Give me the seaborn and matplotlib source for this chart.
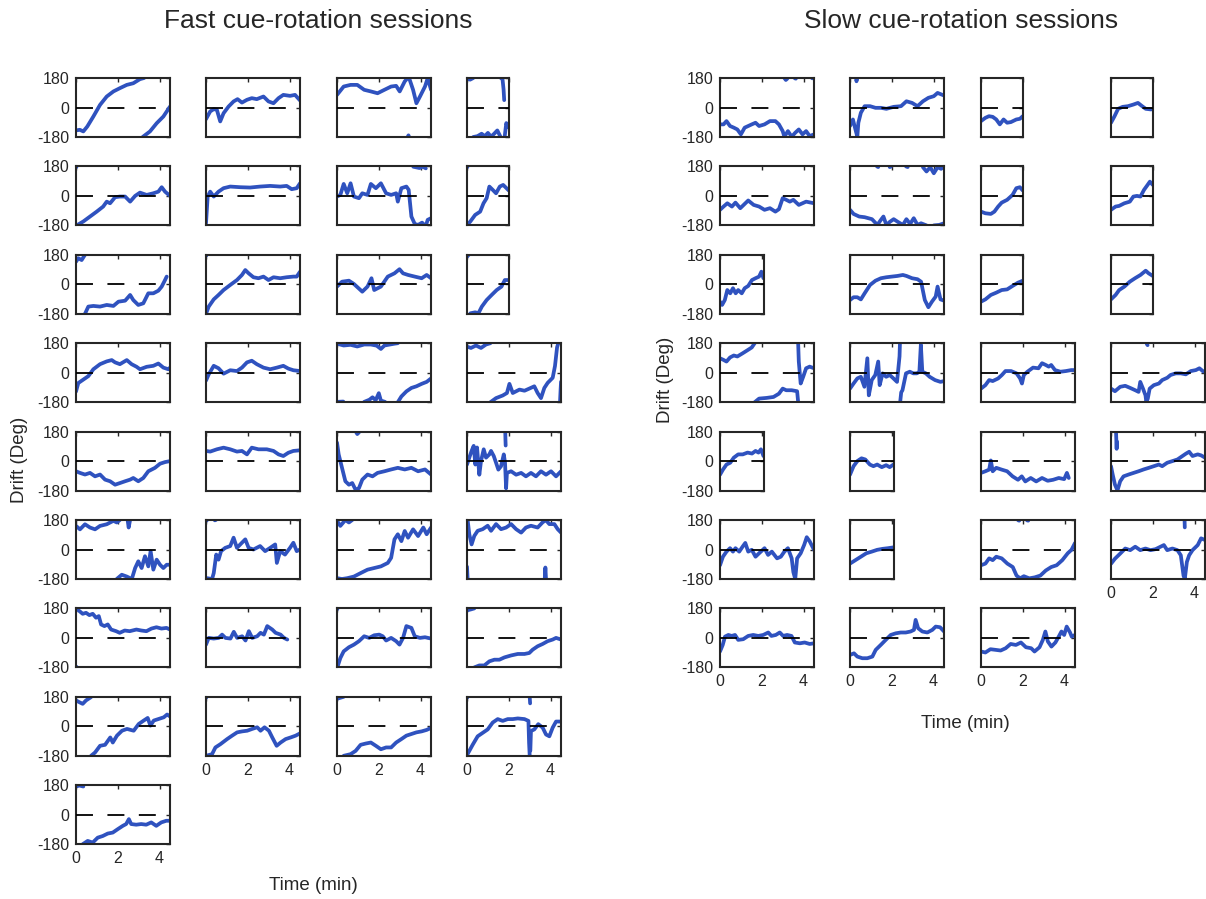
import numpy as np
import pandas as pd
import matplotlib
matplotlib.use("Agg")
import matplotlib.pyplot as plt
import seaborn as sns

BR = None  # break marker (angle wraps around +/-180)

# ---------------- Fast cue-rotation sessions: (time [min], drift [deg]) ----------------
fast_r1c1 = [(0,-140),(0.18,-136),(0.35,-146),(0.54,-116),(0.83,-55),(1.15,16),(1.47,67),(1.79,98),(2.1,118),(2.43,138),(2.74,148),(3.06,173),(3.26,180),BR,(3.19,-180),(3.54,-146),(3.86,-96),(4.18,-55),(4.5,6)]
fast_r1c2 = [(0,-71),(0.2,-24),(0.37,-10),(0.52,-14),(0.68,-85),(0.84,-35),(1.08,6),(1.32,37),(1.51,51),(1.72,30),(1.96,47),(2.19,57),(2.43,51),(2.75,67),(2.99,37),(3.23,26),(3.47,57),(3.7,77),(4.02,71),(4.26,77),(4.5,43)]
fast_r1c3 = [(0,77),(0.32,128),(0.65,138),(0.97,138),(1.3,108),(1.62,98),(1.94,87),(2.27,108),(2.59,128),(2.83,132),(3.0,98),(3.24,159),(3.38,180),BR,(3.38,-180),(3.42,-170),(3.45,-180),BR,(3.45,180),(3.64,108),(3.8,26),(3.97,67),(4.21,128),(4.34,179),(4.5,108)]
fast_r1c4 = [(0,175),(0.15,170),(0.3,180),BR,(0.3,-180),(0.5,-175),(0.7,-160),(0.85,-175),(1.0,-155),(1.15,-178),(1.3,-160),(1.45,-140),(1.6,-178),BR,(1.62,180),(1.7,172),(1.75,110),(1.78,45),BR,(1.8,-180),(1.88,-95),(1.95,-120),(2.0,-100)]
fast_r2c1 = [(0,180),(0.02,176),BR,(0.03,-180),(0.35,-156),(0.67,-126),(0.99,-96),(1.3,-65),(1.47,-35),(1.63,-45),(1.87,-8),(2.1,-4),(2.35,-4),(2.59,-35),(2.83,0),(3.06,20),(3.38,6),(3.7,16),(3.94,26),(4.1,53),(4.26,26),(4.5,0)]
fast_r2c2 = [(0,-167),(0.08,-4),(0.2,26),(0.37,-4),(0.6,26),(0.84,47),(1.16,57),(1.64,53),(2.11,51),(2.59,57),(3.07,61),(3.55,57),(3.86,61),(4.1,41),(4.34,47),(4.5,77)]
fast_r2c3 = [(0,-4),(0.16,6),(0.32,73),(0.49,16),(0.65,77),(0.81,-4),(1.05,-14),(1.21,16),(1.46,6),(1.62,73),(1.86,47),(2.1,77),(2.35,16),(2.59,6),(2.83,16),(2.91,-35),(3.08,47),(3.32,57),(3.43,37),(3.56,-126),(3.72,-171),(3.88,-177),(4.07,-163),(4.2,-180),BR,(4.28,-170),(4.34,-146),(4.5,-136),BR,(3.65,178),(3.8,174),(3.95,170),(4.1,178),(4.25,168)]
fast_r2c4 = [(0,180),(0.02,176),BR,(0,-177),(0.16,-156),(0.39,-116),(0.63,-96),(0.79,-45),(0.94,-14),(1.07,57),(1.23,37),(1.39,16),(1.57,57),(1.73,67),(2.0,33)]
fast_r3c1 = [(0,138),(0.11,159),(0.27,148),(0.43,180),BR,(0.43,-180),(0.59,-136),(0.83,-132),(1.15,-136),(1.47,-126),(1.79,-132),(2.03,-106),(2.35,-100),(2.59,-65),(2.74,-96),(2.98,-126),(3.22,-116),(3.46,-55),(3.7,-55),(3.94,-39),(4.1,-14),(4.26,26),(4.34,47)]
fast_r3c2 = [(0,180),(0.02,176),BR,(0,-180),(0.13,-136),(0.37,-92),(0.6,-65),(0.84,-35),(1.16,-4),(1.48,26),(1.72,57),(1.88,87),(2.04,67),(2.27,43),(2.51,37),(2.75,47),(2.99,26),(3.23,43),(3.55,37),(3.86,43),(4.18,47),(4.34,47),(4.5,77)]
fast_r3c3 = [(0,-14),(0.24,16),(0.57,22),(0.81,2),(1.21,-45),(1.46,-14),(1.65,37),(1.78,-35),(2.1,-14),(2.43,47),(2.75,67),(2.99,92),(3.16,67),(3.4,57),(3.72,47),(4.05,37),(4.29,57),(4.5,37)]
fast_r3c4 = [(0,168),(0.08,180),BR,(0.16,-177),(0.39,-171),(0.55,-176),(0.71,-136),(0.94,-96),(1.18,-65),(1.42,-35),(1.65,-14),(1.81,26),(2.0,26)]
fast_r4c1 = [(0,-115),(0.11,-63),(0.35,-42),(0.59,-21),(0.83,21),(1.15,52),(1.47,69),(1.71,77),(1.87,63),(2.1,52),(2.43,77),(2.66,52),(2.9,36),(3.06,21),(3.38,36),(3.7,42),(3.94,56),(4.18,31),(4.42,21),(4.5,31)]
fast_r4c2 = [(0,-48),(0.13,-10),(0.37,42),(0.6,27),(0.84,-6),(1.16,15),(1.48,10),(1.72,31),(1.96,63),(2.19,73),(2.43,52),(2.75,31),(3.07,21),(3.39,31),(3.7,42),(3.94,25),(4.18,15),(4.5,10)]
fast_r4c3 = [(0,177),(0.32,166),(0.65,170),(0.97,160),(1.3,172),(1.62,172),(1.9,165),(2.1,145),(2.27,166),(2.75,177),(2.91,180),BR,(0,-178),(0.3,-176),BR,(1.3,-178),(1.55,-165),(1.7,-150),(1.85,-168),(2.0,-125),(2.1,-170),(2.3,-178),BR,(2.91,-180),(3.08,-145),(3.32,-114),(3.56,-93),(3.8,-83),(4.05,-68),(4.29,-56),(4.5,-35)]
fast_r4c4 = [(0,159),(0.19,151),(0.43,166),(0.67,151),(0.91,172),(1.12,180),BR,(1.12,-180),(1.39,-155),(1.71,-139),(1.91,-124),(2.03,-68),(2.19,-124),(2.51,-103),(2.75,-110),(2.98,-97),(3.22,-83),(3.38,-124),(3.54,-155),(3.7,-93),(3.86,-62),(4.1,-31),(4.21,41),(4.31,155),(4.37,180),BR,(4.45,-180),(4.48,-100),(4.5,-55)]
fast_r5c1 = [(0,-62),(0.19,-72),(0.43,-82),(0.67,-72),(0.91,-93),(1.15,-82),(1.39,-113),(1.63,-123),(1.87,-144),(2.1,-134),(2.35,-123),(2.59,-113),(2.74,-103),(2.98,-123),(3.22,-103),(3.46,-62),(3.78,-41),(4.02,-16),(4.26,-6),(4.5,0)]
fast_r5c2 = [(0,62),(0.2,58),(0.52,72),(0.84,82),(1.16,72),(1.48,58),(1.72,62),(1.96,41),(2.19,82),(2.51,72),(2.91,72),(3.23,62),(3.47,41),(3.7,31),(3.94,51),(4.18,62),(4.5,66)]
fast_r5c3 = [(0,113),(0.08,41),(0.24,-41),(0.4,-123),(0.57,-144),(0.73,-134),(0.89,-175),(1.05,-165),(1.21,-113),(1.46,-82),(1.7,-93),(1.94,-72),(2.27,-62),(2.59,-51),(2.91,-41),(3.24,-51),(3.56,-41),(3.88,-62),(4.21,-51),(4.5,-82),BR,(0.9,180),(0.97,165),(1.05,175)]
fast_r5c4 = [(0,-21),(0.11,21),(0.22,62),(0.32,93),(0.4,-21),(0.48,83),(0.59,-83),(0.67,0),(0.8,72),(0.91,21),(1.07,41),(1.15,62),(1.28,31),(1.39,-10),(1.5,-52),(1.63,-31),(1.76,41),(1.82,-10),(1.87,-166),(1.91,-72),(2.11,-62),(2.35,-83),(2.59,-72),(2.82,-93),(3.06,-72),(3.3,-93),(3.54,-62),(3.78,-83),(4.02,-62),(4.26,-93),(4.5,-62),BR,(1.83,180),(1.84,130),(1.85,95)]
fast_r6c1 = [(0,144),(0.19,123),(0.43,154),(0.67,134),(0.91,123),(1.15,144),(1.47,154),(1.79,175),(1.95,165),(2.1,180),BR,(2.47,180),(2.52,134),(2.58,175),BR,(1.95,-180),(2.19,-154),(2.43,-165),(2.67,-180),(2.83,-113),(2.98,-72),(3.14,-113),(3.3,-41),(3.46,-103),(3.57,-10),(3.7,-123),(3.86,-62),(4.02,-93),(4.18,-113),(4.34,-93),(4.5,-93)]
fast_r6c2 = [(0,180),(0.03,176),BR,(0.42,178),(0.47,180),BR,(0.05,-175),(0.29,-180),(0.37,-144),(0.49,-31),(0.6,-62),(0.72,-10),(0.92,10),(1.16,21),(1.32,72),(1.48,10),(1.64,31),(1.88,62),(2.04,10),(2.27,0),(2.59,21),(2.83,-10),(3.07,10),(3.31,31),(3.39,-82),(3.55,-10),(3.78,-31),(4.02,10),(4.18,41),(4.34,-10),(4.5,0)]
fast_r6c3 = [(0,175),(0.16,144),(0.4,180),(0.57,165),(0.73,180),BR,(0,-175),(0.24,-180),(0.49,-175),(0.81,-165),(1.13,-144),(1.46,-123),(1.78,-113),(2.1,-103),(2.43,-82),(2.59,-51),(2.75,62),(2.91,93),(3.08,51),(3.24,113),(3.4,72),(3.64,123),(3.88,82),(4.13,134),(4.29,93),(4.5,134)]
fast_r6c4 = [(0,-105),(0.03,-180),BR,(0.03,180),(0.11,93),(0.22,31),(0.35,83),(0.51,114),(0.75,124),(0.99,145),(1.15,114),(1.39,155),(1.63,124),(1.87,134),(2.11,155),(2.35,124),(2.59,103),(2.82,134),(3.06,145),(3.38,134),(3.62,166),(3.78,180),BR,(3.72,-180),(3.75,-110),(3.78,-180),BR,(3.8,175),(3.94,155),(4.18,155),(4.34,124),(4.5,103)]
fast_r7c1 = [(0,-180),(0.02,-176),BR,(0,180),(0.16,164),(0.32,147),(0.48,153),(0.64,139),(0.8,147),(0.96,123),(1.09,133),(1.2,82),(1.36,72),(1.52,82),(1.68,51),(1.92,41),(2.09,31),(2.33,45),(2.57,41),(2.89,51),(3.13,45),(3.37,41),(3.61,57),(3.85,65),(4.09,57),(4.33,61),(4.5,51)]
fast_r7c2 = [(0,-41),(0.13,0),(0.37,-4),(0.61,0),(0.77,20),(0.93,0),(1.17,-4),(1.33,37),(1.49,0),(1.73,10),(1.89,-16),(2.05,41),(2.21,0),(2.45,10),(2.61,31),(2.77,20),(2.93,72),(3.17,51),(3.33,31),(3.57,20),(3.73,0),(3.89,-10)]
fast_r7c3 = [(0,180),(0.02,176),BR,(0.03,-174),(0.16,-123),(0.32,-82),(0.57,-57),(0.81,-41),(1.05,-20),(1.3,10),(1.54,0),(1.78,16),(2.02,20),(2.19,10),(2.35,-16),(2.59,0),(2.83,-20),(2.99,-41),(3.16,0),(3.32,72),(3.56,61),(3.72,10),(3.97,0),(4.21,4),(4.5,-4)]
fast_r7c4 = [(0,168),(0.19,174),(0.35,180),BR,(0.35,-180),(0.59,-168),(0.83,-168),(1.07,-143),(1.31,-133),(1.55,-133),(1.79,-119),(2.11,-107),(2.43,-98),(2.75,-98),(2.98,-92),(3.14,-72),(3.38,-51),(3.62,-37),(3.86,-20),(4.1,-10),(4.26,0),(4.5,-10)]
fast_r8c1 = [(0,158),(0.16,147),(0.32,137),(0.48,158),(0.72,178),BR,(0.72,-180),(0.91,-160),(1.15,-119),(1.39,-113),(1.64,-68),(1.76,-99),(1.96,-57),(2.2,-27),(2.44,-16),(2.76,-27),(3.0,14),(3.24,35),(3.43,51),(3.56,4),(3.72,35),(3.96,45),(4.2,55),(4.36,72),(4.5,60)]
fast_r8c2 = [(0,180),(0.02,176),BR,(0,-180),(0.29,-170),(0.45,-129),(0.69,-109),(1.01,-78),(1.25,-57),(1.49,-37),(1.73,-31),(1.97,-27),(2.21,-16),(2.45,-6),(2.61,-27),(2.8,-6),(3.01,-27),(3.17,-68),(3.38,-119),(3.57,-99),(3.81,-78),(4.05,-68),(4.29,-57),(4.5,-43)]
fast_r8c3 = [(0,168),(0.16,174),(0.32,180),BR,(0.32,-180),(0.65,-170),(0.89,-150),(1.13,-113),(1.38,-105),(1.62,-99),(1.86,-119),(2.1,-140),(2.35,-129),(2.59,-129),(2.83,-99),(3.08,-78),(3.32,-57),(3.56,-47),(3.8,-37),(4.05,-31),(4.29,-22),(4.5,-10)]
fast_r8c4 = [(0,180),(0.02,176),BR,(0,-176),(0.27,-113),(0.51,-61),(0.75,-40),(0.99,-19),(1.23,23),(1.47,44),(1.71,33),(1.95,44),(2.19,44),(2.43,48),(2.75,44),(2.94,33),(2.97,-100),(3.0,-180),BR,(3.0,180),(3.02,140),BR,(3.03,-150),(3.06,-29),(3.22,-19),(3.41,13),(3.62,-8),(3.78,-50),(3.94,-61),(4.1,-8),(4.26,29),(4.5,29)]
fast_r9c1 = [(0,172),(0.16,178),(0.35,172),BR,(0.32,-180),(0.56,-160),(0.8,-170),(1.04,-140),(1.28,-130),(1.52,-115),(1.76,-109),(2.0,-88),(2.24,-68),(2.4,-57),(2.53,-27),(2.64,-57),(2.88,-61),(3.12,-57),(3.36,-61),(3.6,-47),(3.84,-68),(4.08,-47),(4.32,-37),(4.5,-37)]

# ---------------- Slow cue-rotation sessions ----------------
slow_r1c1 = [(0,-103),(0.17,-103),(0.31,-83),(0.48,-113),(0.66,-123),(0.83,-134),(1.0,-164),(1.18,-123),(1.35,-113),(1.52,-103),(1.7,-93),(1.87,-113),(2.13,-103),(2.39,-83),(2.65,-83),(2.82,-103),(3.0,-144),(3.08,-178),(3.25,-144),(3.43,-178),(3.6,-154),(3.77,-134),(3.95,-164),(4.12,-144),(4.29,-174),(4.5,-164),BR,(3.08,180),(3.15,168),(3.22,176),BR,(3.58,178),(3.63,176),BR,(4.42,178),(4.47,180)]
slow_r1c2 = [(0,-113),(0.14,-73),(0.26,-134),(0.35,-178),(0.4,-93),(0.52,-32),(0.7,8),(0.96,8),(1.22,-2),(1.48,-2),(1.74,-8),(2.09,4),(2.44,8),(2.7,38),(2.97,28),(3.23,8),(3.49,38),(3.75,59),(4.01,69),(4.19,89),(4.5,73),BR,(0.3,180),(0.31,160),(0.33,175)]
slow_r1c3 = [(0,-83),(0.21,-63),(0.38,-53),(0.56,-57),(0.73,-73),(0.9,-103),(1.08,-73),(1.25,-93),(1.43,-89),(1.69,-73),(1.86,-69),(2.0,-53)]
slow_r1c4 = [(0,-93),(0.17,-53),(0.34,-8),(0.56,4),(0.81,8),(1.07,18),(1.29,28),(1.49,8),(1.66,-8),(1.92,-12)]
slow_r2c1 = [(0,-85),(0.17,-65),(0.35,-45),(0.57,-65),(0.74,-41),(0.97,-75),(1.18,-49),(1.35,-28),(1.61,-55),(1.87,-65),(2.13,-85),(2.39,-75),(2.65,-96),(2.82,-81),(3.0,-14),(3.17,-24),(3.34,-35),(3.51,-24),(3.77,-55),(4.12,-35),(4.5,-45)]
slow_r2c2 = [(0,-85),(0.17,-110),(0.44,-126),(0.7,-130),(1.05,-142),(1.31,-177),(1.48,-146),(1.6,-126),(1.74,-177),(1.92,-157),(2.09,-142),(2.27,-157),(2.53,-177),(2.7,-142),(2.88,-171),(3.05,-136),(3.23,-177),(3.4,-167),(3.66,-180),BR,(4.01,-180),(4.27,-177),(4.5,-167),BR,(1.29,180),(1.35,176),BR,(1.9,176),(1.95,178),BR,(2.68,180),(2.76,176),BR,(3.49,175),(3.66,149),(3.84,175),(4.01,138),(4.19,175),(4.36,165),(4.5,180)]
slow_r2c3 = [(0,-96),(0.21,-106),(0.47,-110),(0.64,-96),(0.82,-65),(0.99,-41),(1.25,-24),(1.51,6),(1.69,47),(1.86,53),(2.0,33)]
slow_r2c4 = [(0,-85),(0.22,-65),(0.39,-61),(0.64,-45),(0.9,-35),(1.07,-4),(1.24,0),(1.41,-4),(1.58,37),(1.75,67),(1.86,87),(2.0,67)]
slow_r3c1 = [(0,-106),(0.1,-126),(0.23,-96),(0.35,-35),(0.49,-55),(0.62,-24),(0.75,-55),(0.87,-35),(1.04,-55),(1.18,-24),(1.35,-10),(1.53,26),(1.7,37),(1.87,47),(1.98,77),(2.08,37)]
slow_r3c2 = [(0,-96),(0.17,-79),(0.35,-79),(0.52,-92),(0.7,-55),(0.96,-4),(1.22,22),(1.48,37),(1.74,43),(2.0,47),(2.27,51),(2.53,57),(2.7,51),(2.97,37),(3.23,31),(3.4,16),(3.58,-96),(3.75,-140),(3.92,-106),(4.1,-75),(4.19,-14),(4.33,-92),(4.5,-100)]
slow_r3c3 = [(0,-106),(0.21,-92),(0.47,-65),(0.73,-51),(0.99,-35),(1.25,-31),(1.51,-10),(1.77,10),(2.0,22)]
slow_r3c4 = [(0,-92),(0.22,-65),(0.39,-35),(0.64,-14),(0.9,16),(1.15,37),(1.41,57),(1.66,83),(1.8,67),(2.0,51)]
slow_r4c1 = [(0,88),(0.17,78),(0.31,68),(0.48,93),(0.66,105),(0.83,99),(1.09,119),(1.35,140),(1.52,154),(1.66,180),BR,(1.66,-180),(1.87,-158),(2.22,-154),(2.56,-148),(2.82,-128),(3.0,-97),(3.17,-107),(3.43,-107),(3.69,-113),(3.74,-180),BR,(3.74,180),(3.77,68),(3.86,-66),(3.98,-25),(4.12,27),(4.29,37),(4.5,27)]
slow_r4c2 = [(0,-97),(0.17,-66),(0.35,-35),(0.52,-25),(0.69,-86),(0.83,88),(0.9,-138),(1.04,-45),(1.21,-14),(1.35,68),(1.42,-76),(1.56,-4),(1.73,-25),(1.9,-14),(2.08,-35),(2.25,-56),(2.37,100),(2.39,180),BR,(2.4,-180),(2.45,-120),(2.51,-107),(2.68,-4),(2.86,6),(3.03,-4),(3.2,-4),(3.32,6),(3.39,171),(3.46,6),(3.63,-4),(3.81,-25),(4.07,-45),(4.33,-56),(4.5,-51)]
slow_r4c3 = [(0,-97),(0.21,-76),(0.39,-45),(0.56,-51),(0.82,-35),(1.0,-14),(1.17,10),(1.44,10),(1.7,-4),(1.87,-35),(1.96,-66),(2.05,-14),(2.22,6),(2.49,31),(2.75,27),(2.92,58),(3.1,47),(3.24,37),(3.36,47),(3.54,16),(3.8,6),(4.06,10),(4.32,16),(4.5,16)]
slow_r4c4 = [(0,-97),(0.19,-113),(0.44,-86),(0.68,-80),(0.92,-93),(1.16,-107),(1.32,-117),(1.4,-56),(1.53,-97),(1.65,-138),(1.69,-179),(1.76,-158),(1.85,-97),(2.05,-76),(2.29,-66),(2.45,-45),(2.69,-31),(2.85,-14),(3.1,-4),(3.34,-4),(3.58,-10),(3.82,10),(4.06,16),(4.23,27),(4.39,10),(4.5,6),BR,(1.71,176),(1.75,168)]
slow_r5c1 = [(0,-83),(0.14,-52),(0.31,-21),(0.49,-10),(0.66,21),(0.87,41),(1.09,41),(1.32,52),(1.53,46),(1.7,62),(1.84,52),(1.96,72),(2.08,31)]
slow_r5c2 = [(0,-83),(0.17,-31),(0.35,0),(0.55,17),(0.73,10),(0.95,-21),(1.12,-31),(1.3,-21),(1.52,-37),(1.73,-25),(1.9,-37),(2.08,-21)]
slow_r5c3 = [(0,-72),(0.21,-62),(0.39,-52),(0.47,4),(0.56,-62),(0.73,-41),(0.99,-52),(1.25,-62),(1.51,-93),(1.77,-114),(1.95,-93),(2.12,-124),(2.38,-103),(2.64,-124),(2.92,-103),(3.19,-120),(3.45,-114),(3.72,-103),(3.98,-110),(4.11,-72),(4.2,-103)]
slow_r5c4 = [(0,-31),(0.08,-82),(0.19,-144),(0.31,-179),(0.44,-123),(0.6,-93),(0.84,-82),(1.08,-72),(1.32,-62),(1.56,-51),(1.81,-41),(2.05,-31),(2.29,-21),(2.45,-31),(2.69,-10),(2.94,0),(3.18,10),(3.42,31),(3.58,45),(3.74,57),(3.9,31),(4.15,41),(4.31,35),(4.5,21),BR,(0.24,180),(0.26,110),(0.27,75),(0.28,120)]
slow_r6c1 = [(0,-96),(0.14,-44),(0.31,-13),(0.48,8),(0.62,-13),(0.74,8),(0.92,-13),(1.09,19),(1.21,40),(1.35,-13),(1.52,-2),(1.7,-44),(1.87,-23),(2.13,8),(2.3,-33),(2.48,-13),(2.73,-54),(2.91,-44),(3.08,-13),(3.25,8),(3.43,-54),(3.51,-138),(3.6,-180),(3.69,-54),(3.86,-23),(4.03,29),(4.15,75),(4.29,50),(4.5,-2)]
slow_r6c2 = [(0,-86),(0.26,-65),(0.52,-44),(0.78,-23),(1.04,-13),(1.3,-2),(1.56,4),(1.82,8),(2.08,13)]
slow_r6c3 = [(0,-96),(0.21,-86),(0.39,-54),(0.56,-65),(0.73,-44),(0.99,-54),(1.26,-86),(1.52,-107),(1.7,-159),(1.87,-176),(2.05,-163),(2.31,-176),(2.57,-170),(2.84,-159),(3.1,-128),(3.36,-107),(3.62,-96),(3.89,-65),(4.15,-23),(4.33,-2),(4.5,40),BR,(1.78,178),(1.83,176),BR,(2.2,178),(2.26,176)]
slow_r6c4 = [(0,-87),(0.19,-56),(0.44,-25),(0.68,6),(0.92,-4),(1.16,17),(1.4,-4),(1.65,6),(1.89,-4),(2.13,2),(2.37,17),(2.53,27),(2.69,-4),(2.94,6),(3.18,-4),(3.34,-35),(3.47,-159),(3.53,-180),(3.63,-76),(3.74,-35),(3.9,-4),(4.15,27),(4.31,68),(4.5,58),BR,(3.52,180),(3.53,135)]
slow_r7c1 = [(0,-83),(0.13,-43),(0.24,8),(0.4,18),(0.56,12),(0.72,18),(0.87,-12),(1.11,-8),(1.35,12),(1.59,18),(1.83,12),(2.07,18),(2.31,33),(2.46,12),(2.67,18),(2.86,33),(3.02,12),(3.21,18),(3.42,12),(3.58,-28),(3.82,-33),(4.05,-28),(4.29,-37),(4.5,-33)]
slow_r7c2 = [(0,-104),(0.19,-94),(0.35,-114),(0.59,-124),(0.83,-124),(1.07,-114),(1.23,-73),(1.47,-43),(1.71,-12),(1.95,18),(2.19,28),(2.43,33),(2.67,33),(2.9,39),(3.06,49),(3.14,110),(3.26,59),(3.46,39),(3.7,33),(3.94,49),(4.1,69),(4.31,65),(4.5,39)]
slow_r7c3 = [(0,-83),(0.21,-89),(0.45,-69),(0.7,-73),(0.94,-77),(1.18,-63),(1.42,-37),(1.67,-43),(1.91,-28),(2.15,-57),(2.4,-63),(2.56,-83),(2.8,-57),(2.96,-12),(3.08,39),(3.2,-22),(3.37,-53),(3.56,-28),(3.72,8),(3.85,39),(3.98,18),(4.1,69),(4.26,33),(4.34,8),(4.5,18)]

# session lengths (min), one per panel in reading order
fast_durations = [4.5, 4.5, 4.5, 2.0,
                  4.5, 4.5, 4.5, 2.0,
                  4.5, 4.5, 4.5, 2.0] + [4.5] * 21
slow_durations = [4.5, 4.5, 2.0, 2.0,
                  4.5, 4.5, 2.0, 2.0,
                  2.1, 4.5, 2.0, 2.0,
                  4.5, 4.5, 4.5, 4.5,
                  2.1, 2.1, 4.5, 4.5,
                  4.5, 2.1, 4.5, 4.5,
                  4.5, 4.5, 4.5]

fast_traces = [fast_r1c1, fast_r1c2, fast_r1c3, fast_r1c4,
               fast_r2c1, fast_r2c2, fast_r2c3, fast_r2c4,
               fast_r3c1, fast_r3c2, fast_r3c3, fast_r3c4,
               fast_r4c1, fast_r4c2, fast_r4c3, fast_r4c4,
               fast_r5c1, fast_r5c2, fast_r5c3, fast_r5c4,
               fast_r6c1, fast_r6c2, fast_r6c3, fast_r6c4,
               fast_r7c1, fast_r7c2, fast_r7c3, fast_r7c4,
               fast_r8c1, fast_r8c2, fast_r8c3, fast_r8c4,
               fast_r9c1]
slow_traces = [slow_r1c1, slow_r1c2, slow_r1c3, slow_r1c4,
               slow_r2c1, slow_r2c2, slow_r2c3, slow_r2c4,
               slow_r3c1, slow_r3c2, slow_r3c3, slow_r3c4,
               slow_r4c1, slow_r4c2, slow_r4c3, slow_r4c4,
               slow_r5c1, slow_r5c2, slow_r5c3, slow_r5c4,
               slow_r6c1, slow_r6c2, slow_r6c3, slow_r6c4,
               slow_r7c1, slow_r7c2, slow_r7c3]

x_ticks = [0, 2, 4]
y_ticks = [-180, 0, 180]

# ---------------- layout (pixels on a 1206 x 899 canvas) ----------------
W, H = 1206, 899
fast_grid = [(r, c) for r in range(8) for c in range(4)] + [(8, 0)]
slow_grid = [(r, c) for r in range(6) for c in range(4)] + [(6, 0), (6, 1), (6, 2)]
fast_lefts = [76, 206, 337, 467]
slow_lefts = [720, 850, 981, 1111]
fast_xlabeled = {(8, 0), (7, 1), (7, 2), (7, 3)}
slow_xlabeled = {(6, 0), (6, 1), (6, 2), (5, 3)}
ROW_TOP0, ROW_PITCH, AX_H, PX_PER_MIN = 78, 88.4, 59, 20.9

BLUE = "#2F52BF"
DARK = "#262626"

sns.set_style("white")
plt.rcParams["font.family"] = ["Liberation Sans", "DejaVu Sans"]
plt.rcParams["axes.unicode_minus"] = False


def to_frame(trace):
    rows, seg = [], 0
    for p in trace:
        if p is None:
            seg += 1
            continue
        rows.append((p[0], p[1], seg))
    return pd.DataFrame(rows, columns=["t", "deg", "seg"])


fig = plt.figure(figsize=(W / 100, H / 100), dpi=100)


def draw_panel(traces, durations, grid, lefts, xlabeled):
    for trace, dur, (r, c) in zip(traces, durations, grid):
        top = ROW_TOP0 + ROW_PITCH * r
        w = dur * PX_PER_MIN
        ax = fig.add_axes([lefts[c] / W, 1 - (top + AX_H) / H, w / W, AX_H / H])
        df = to_frame(trace)
        sns.lineplot(data=df, x="t", y="deg", units="seg", estimator=None,
                     sort=False, color=BLUE, lw=2.7, ax=ax, legend=False,
                     solid_joinstyle="round", solid_capstyle="round", zorder=2)
        ax.axhline(0, color="black", lw=1.3, dashes=(9.4, 8.0), zorder=3)
        ax.set_xlim(0, dur)
        ax.set_ylim(-180, 180)
        ax.set_xticks([t for t in x_ticks if t <= dur])
        ax.set_yticks(y_ticks)
        ax.set_xlabel("")
        ax.set_ylabel("")
        ax.tick_params(direction="in", top=True, right=True, length=3, width=1,
                       color=DARK, labelsize=11.5, labelcolor=DARK, pad=5)
        if (r, c) not in xlabeled:
            ax.set_xticklabels([])
        if c != 0:
            ax.set_yticklabels([])
        for s in ax.spines.values():
            s.set_visible(True)
            s.set_color(DARK)
            s.set_linewidth(1.5)


draw_panel(fast_traces, fast_durations, fast_grid, fast_lefts, fast_xlabeled)
draw_panel(slow_traces, slow_durations, slow_grid, slow_lefts, slow_xlabeled)

fig.text(318 / W, 1 - 21 / H, "Fast cue-rotation sessions", ha="center", va="center",
         fontsize=19, color=DARK)
fig.text(961 / W, 1 - 21 / H, "Slow cue-rotation sessions", ha="center", va="center",
         fontsize=19, color=DARK)
fig.text(313 / W, 1 - 886 / H, "Time (min)", ha="center", va="center", fontsize=13.5, color=DARK)
fig.text(965 / W, 1 - 724 / H, "Time (min)", ha="center", va="center", fontsize=13.5, color=DARK)
fig.text(20 / W, 1 - 460 / H, "Drift (Deg)", ha="center", va="center", rotation=90,
         fontsize=13.5, color=DARK)
fig.text(665 / W, 1 - 380 / H, "Drift (Deg)", ha="center", va="center", rotation=90,
         fontsize=13.5, color=DARK)

fig.savefig("out.png", dpi=100, facecolor="white")
